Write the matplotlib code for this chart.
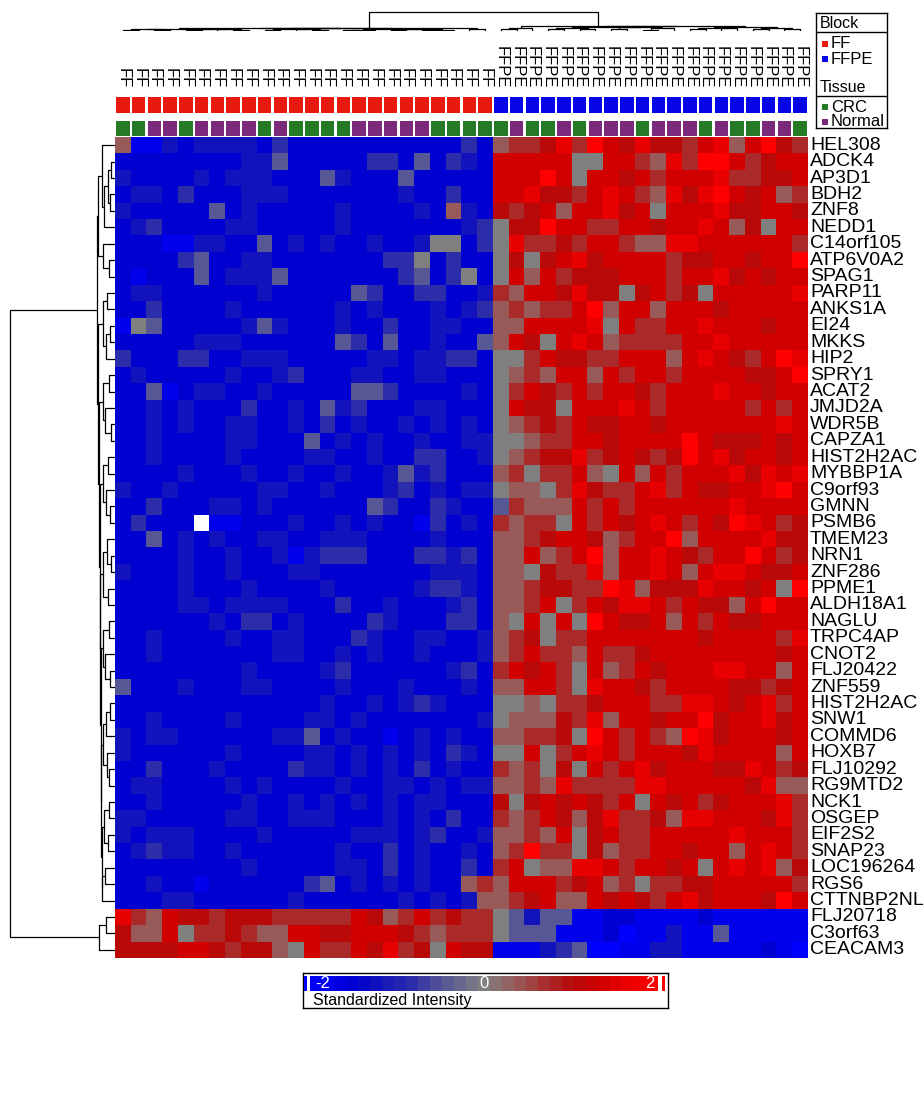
import numpy as np
import matplotlib
matplotlib.use("Agg")
import matplotlib.pyplot as plt
from matplotlib.colors import LinearSegmentedColormap
from matplotlib.patches import Rectangle
import matplotlib.transforms as mtrans

plt.rcParams['font.family'] = ['Liberation Sans', 'DejaVu Sans']

# ---------------- data ----------------
genes = ["HEL308", "ADCK4", "AP3D1", "BDH2", "ZNF8", "NEDD1", "C14orf105", "ATP6V0A2",
         "SPAG1", "PARP11", "ANKS1A", "EI24", "MKKS", "HIP2", "SPRY1", "ACAT2", "JMJD2A",
         "WDR5B", "CAPZA1", "HIST2H2AC", "MYBBP1A", "C9orf93", "GMNN", "PSMB6", "TMEM23",
         "NRN1", "ZNF286", "PPME1", "ALDH18A1", "NAGLU", "TRPC4AP", "CNOT2", "FLJ20422",
         "ZNF559", "HIST2H2AC", "SNW1", "COMMD6", "HOXB7", "FLJ10292", "RG9MTD2", "NCK1",
         "OSGEP", "EIF2S2", "SNAP23", "LOC196264", "RGS6", "CTTNBP2NL", "FLJ20718",
         "C3orf63", "CEACAM3"]

block = ["FF"] * 24 + ["FFPE"] * 20
tissue = list("GGPPGPPPPGPGGGGPPPPPGGGG" + "GPGGPGPPPGPPPGPGGPPG")

# intensity levels coded by letter (W = missing)
levels = {"A": -2.2, "B": -1.9, "C": -1.6, "D": -1.3, "E": -0.9, "F": -0.5, "G": 0.0,
          "H": 0.4, "I": 0.8, "J": 1.15, "K": 1.45, "L": 1.75, "M": 2.2, "W": np.nan}

cells_ff = [
    "HBBDCDDDDCECCCCCCCCCCCEC", "CCCCCCCCDDFCCCCCEECFCEDC", "DCCCCDCDDDCCCFDCCCFCCCCC",
    "CDDCECCCDDDCCCCCCCDCCECC", "DCCCCCFCDCCCCCDCCCCDCHDC", "CDECCCCDDCCCCCDCCCCCCCDE",
    "CCCBBDDCCFCDCDCCDCCDGGCE", "CCCCEFCCDDCCCCCCCEEGCECC", "CBCCCFCDDDFCCCCCCCEFCEGC",
    "CDDCCCCCCDCCCCCFECCEECCD", "CCECCCCDCCCCCCDCDCCCDCDE", "BGFCCCCCDFDCCCDCCECCDDCC",
    "CCCCCDDDCCCCCCFECFCCDCCF", "ECCCEECCDDDCCCCCDDCDDEEC", "CDCCCCCDCCDECCCDDCCDDCCC",
    "CCFBCDDCCDCCCCCFFECCCCDC", "CCDCDCCCECCDCFDECCCDDCCC", "CCDCDCCDDCCDCECDCCDCDCDC",
    "CCDCCCCDDCCCFCDCDCCDCCDD", "CCDCCCCDCCCCDDCCDCCEECCD", "CCCCDCCCDCCDCCDCCDFDECCC",
    "DCCDCCCCCDDCCDCCCDECDCDD", "CCECCCDDCDCCCCCCFECCEDCC", "CECCCWBBCCCDCCDCDCCBECDC",
    "CCFCDCDCCDDCCDDDCCCCDCCC", "CCCCDCCDCCDBDEEECCCEEDEC", "DCCCDCCDCCCDDCCCCCCCDDDC",
    "CCCCDCCCDCCCCDCCCCCDEEDC", "CCCCDDCDDDDCCCECCDCCCDEC", "CCCCCCDCEECDCCCCEDCCCEEC",
    "CCDCCCCDCCDDCCCEDCCDDCCD", "CCDCCCCCCCDDCCDCDCCDCCCD", "CCCCCCCCDCCCCDECCCCCCDEC",
    "FCCCDCCCDDCCCCDCCCDCCCDC", "CCCCCCCCCCCCCDCCDCDEDCCC", "CCDCCCCDCCCCDDCDCCCCCCCD",
    "DCDDCCCCCCDDFCDCCBCDCDCC", "DCCCCCCDCCCCDDCDCDCDCEDC", "CCECCCDCCCCEDDCDCDCECDCC",
    "CDDCCCCDCDCCCCDCCDDCDCDD", "CCDCCCCCDCCDCDCDCDCDDCCC", "DDCCCCCDDCCDDDCCCDCDCECC",
    "DCDDDCCCCDCCCCCDDDCDECCD", "CDEDDCCDCCCCCCDCCECDCCDC", "CCCCCCCCDCCCCCDDCECDCCEC",
    "CCDCCBCCCCCCEFCDCDCDCCHI", "CCCDDCCCCCCDCCCCCCDCDCDH", "LIHKJJIJJJIIIIIKJHIKIJII",
    "JHHKGIIJIHHKKJJKKKJIHIII", "JJJJKKJIJJHGKIIKJLIJGKJJ",
]
cells_ffpe = [
    "HIIJLIMKJLJJIKLHKMJI", "KKKKKGGKKIHLIMMKIJKK", "KKKMKGKKJKIKKKLIIJJK",
    "KKLJJIKLKIHLJLMKJKHI", "JIJKHKKLJKGKKKLJJKKJ", "GJJMKKIIKKJKKLKHJGKK",
    "GLIIJIKKIHHLLKKKKKKI", "GJGJKLJKKKKIJJKKJKKM", "GKHKIJJJKKKIKKLJKJKK",
    "IHKKJLJJGJKIJGKKKKKL", "HIHIIKMHKKHKKKJKKKKK", "HHKKKKLGKIIKKLKKKJKK",
    "HKJGKLKHIIIIKKLKKKKK", "GGIKJJIIKKKHKLKJIKML", "GHIHKKHKIKKIKKKKJJKM",
    "GIKJIKIKKJIKKKLKKJKK", "GKJJGKKKLKIKKKKKIKIK", "GHIJIKJJKKJKKKKKKKLK",
    "GGHIIKKJKKKKMKJJJKJK", "GHIJJLIJKJIJMKLJKKJK", "HIGIIKHGKHKIKKKLJLKL",
    "GHHGILJIIKLIKJJKKLMK", "FIHHHKIKIKKKKKKLKKKK", "IHIIGKIKJKLKIKJMLKIJ",
    "HHIJKKJHIKKMHKKKKLJJ", "HHKHIKMHKKLKJIKKMKIJ", "HHGJIILHKKLKHKLLKJJK",
    "HHIJJIIMLHJJJLKKJKGM", "HHIKGIKJLLKIKJJHKMKK", "HGKGKGMKJJKHKIKJJKKK",
    "HIJGIIKKKKKKKJKKKKIL", "HIKIIHKIIJKKKKKKKKJK", "IKJKIGKHIKJKKKLLKKHK",
    "HHKKIGLKKJIKKKKJJIJK", "GGHGIIJKKKIILLKJKLIK", "GHHHJILHKKJKKMJKKLJK",
    "HHIIJGMKIKIHMLJKKKJK", "GGKGIKLKIKKKJLKKKKHK", "IHIGJGKIKLJKKKJJLKIJ",
    "HHIHLIIIILLKKKKKJLHH", "JGJKJKJIKGKJKIJKKKLI", "IHIKJHJLIIJHLLKKKJLI",
    "HHIHKGJKIIKKKKKLKKKI", "HIMIIGJHIIKKJKKHKLKI", "IKGHHLLKIKKJKGKLKLHJ",
    "HKKKIJKHIGIIJJKKKKKI", "HIJKHHKJKJIKLJKKKJMK", "GFDFFBBCCBBBBCBBBBBB",
    "GFFFBBBCABBDBBFBBBBB", "BBBDEFAABBDDBBBBBCBA",
]

# dendrograms: (merge height, left, right); leaves are indices
col_tree = (19,
            (3.2,
             (2.8,
              (2.5, (2.0, (1.2, 0, 1), (1.5, 2, 3)), (2.2, (1.0, 4, 5), (1.8, 6, (1.1, 7, 8)))),
              (2.6, (2.3, (1.4, 9, 10), (1.9, 11, (1.0, 12, 13))),
               (2.4, (1.3, (0.9, 14, 15), 16), (1.7, (1.2, 17, 18), (1.4, (1.0, 19, 20), 21))))),
             (1.6, 22, 23)),
            (5.5,
             (3.5, (2.5, 24, 25), 26),
             (5.0,
              (4.2, (3.2, (2.0, 27, 28), (2.4, 29, 30)),
               (3.6, (2.2, 31, 32), (2.8, (1.5, 33, 34), 35))),
              (4.5, (3.4, (2.1, 36, 37), (2.6, 38, 39)), (3.0, (1.8, 40, 41), (2.0, 42, 43))))))

T1 = (13, 0, (11, (7, (4, 1, 2), (5, 3, 4)), 5))
T2 = (12, 6, (6, 7, 8))
T3 = (12, (8, 9, 10), (9, (5, 11, 12), 13))
T4 = (12.5, (6, 14, 15), (10, 16, (4, 17, 18)))
T5 = (12, (7, 19, 20), (9, 21, (5, 22, 23)))
T6 = (12.5, (8, 24, (4, 25, 26)), (7, 27, 28))
T7 = (12, (6, 29, 30), (10, 31, (5, 32, 33)))
T8 = (12.5, (9, (5, 34, 35), 36), (8, 37, (6, 38, 39)))
T9 = (11.5, (6, 40, 41), (7, 42, 43))
T10 = (13, (10, 44, 45), 46)
row_tree = (105,
            (17.6, (17.0, T1, T2),
             (16.6, T3, (16.0, T4, (15.4, T5, (14.9, T6, (14.4, T7, (13.9, T8, (13.4, T9, T10)))))))),
            (16, (9, 47, 48), 49))

# ---------------- helpers ----------------
W, H = 924, 1094
fig = plt.figure(figsize=(W / 100, H / 100), dpi=100)


def rect(x0, y0, x1, y1):
    return [x0 / W, 1 - y1 / H, (x1 - x0) / W, (y1 - y0) / H]


def dendro_segments(node, segs):
    if isinstance(node, int):
        return float(node), 0.0
    h, a, b = node
    pa, ha = dendro_segments(a, segs)
    pb, hb = dendro_segments(b, segs)
    segs.append(([pa, pa, pb, pb], [ha, h, h, hb]))
    return (pa + pb) / 2, h


node_vals = [-2.2, -1.9, -1.6, -1.3, -0.9, -0.5, 0.0, 0.4, 0.8, 1.15, 1.45, 1.75, 2.2]
node_cols = [(0, 0, 255), (0, 0, 234), (0, 0, 208), (20, 20, 188), (46, 46, 170), (88, 88, 150),
             (128, 128, 128), (152, 90, 90), (170, 42, 42), (186, 8, 8), (208, 0, 0),
             (232, 0, 0), (255, 0, 0)]
vmin, vmax = -2.2, 2.2
cmap = LinearSegmentedColormap.from_list(
    "bgr", [((v - vmin) / (vmax - vmin), tuple(c / 255 for c in col)) for v, col in zip(node_vals, node_cols)])
cmap.set_bad("white")

matrix = np.array([[levels[ch] for ch in a + b] for a, b in zip(cells_ff, cells_ffpe)])
nrow, ncol = matrix.shape

# ---------------- heatmap ----------------
ax = fig.add_axes(rect(115, 137, 808, 958))
ax.imshow(matrix, cmap=cmap, vmin=vmin, vmax=vmax, aspect="auto", interpolation="nearest")
ax.set_xlim(-0.5, ncol - 0.5)
ax.set_ylim(nrow - 0.5, -0.5)
ax.axis("off")
for i, g in enumerate(genes):
    ax.text(ncol - 0.5 + 0.12, i, g, ha="left", va="center", fontsize=14, clip_on=False)

# ---------------- annotation squares ----------------
block_col = {"FF": "#e8190e", "FFPE": "#0606e6"}
tissue_col = {"G": "#257a25", "P": "#7b2a7b"}
axa = fig.add_axes(rect(115, 95, 808, 137))
axa.set_xlim(-0.5, ncol - 0.5)
axa.set_ylim(42, 0)
axa.axis("off")
for j in range(ncol):
    axa.add_patch(Rectangle((j - 0.43, 2), 0.86, 16, color=block_col[block[j]], lw=0))
    axa.add_patch(Rectangle((j - 0.43, 26), 0.86, 15, color=tissue_col[tissue[j]], lw=0))

# column labels (rotated)
tr = mtrans.blended_transform_factory(ax.transData, fig.transFigure)
for j in range(ncol):
    ax.text(j, 1 - 88 / H, block[j], rotation=270, ha="center", va="bottom",
            fontsize=12, transform=tr, clip_on=False)

# ---------------- top dendrogram ----------------
axt = fig.add_axes(rect(115, 10, 808, 31))
segs = []
dendro_segments(col_tree, segs)
for xs, ys in segs:
    axt.plot(xs, ys, color="black", lw=0.9, solid_capstyle="butt")
axt.set_xlim(-0.5, ncol - 0.5)
axt.set_ylim(0, 21)
axt.axis("off")

# ---------------- left dendrogram ----------------
axl = fig.add_axes(rect(0, 137, 115, 958))
segs = []
dendro_segments(row_tree, segs)
for ys, xs in segs:
    axl.plot(xs, ys, color="black", lw=0.9, solid_capstyle="butt")
axl.set_xlim(115, 0)
axl.set_ylim(nrow - 0.5, -0.5)
axl.axis("off")

# ---------------- legend ----------------
axg = fig.add_axes(rect(816, 13, 887, 128))
axg.set_xlim(0, 71)
axg.set_ylim(115, 0)
axg.set_xticks([])
axg.set_yticks([])
for s in axg.spines.values():
    s.set_linewidth(1)
axg.axhline(19, color="black", lw=1)
axg.axhline(83, color="black", lw=1)
axg.text(4, 10, "Block", va="center", ha="left", fontsize=11.5)
axg.text(4, 74, "Tissue", va="center", ha="left", fontsize=11.5)
leg_items = [("FF", block_col["FF"], 31), ("FFPE", block_col["FFPE"], 46),
             ("CRC", tissue_col["G"], 94), ("Normal", tissue_col["P"], 109)]
for lab, col, yy in leg_items:
    axg.add_patch(Rectangle((6, yy - 3), 6, 6, color=col, lw=0))
    axg.text(15, yy, lab, va="center", ha="left", fontsize=12)

# ---------------- colour scale ----------------
axb = fig.add_axes(rect(303, 973, 668, 1008))
axb.set_xticks([])
axb.set_yticks([])
for s in axb.spines.values():
    s.set_linewidth(1)
axc = fig.add_axes(rect(310, 976, 658, 991))
steps = np.linspace(-2.1, 2.1, 29)
axc.imshow(steps[None, :], cmap=cmap, vmin=vmin, vmax=vmax, aspect="auto",
           interpolation="nearest", extent=(-2.1, 2.1, 0, 1))
axc.set_xlim(-2.1, 2.1)
axc.axis("off")
for v, t in [(-1.95, "-2"), (0, "0"), (2.0, "2")]:
    axc.text(v, 0.5, t, color="white", ha="center", va="center", fontsize=12)
fig.add_artist(Rectangle((304 / W, 1 - 991 / H), 3 / W, 15 / H, color="#0000ff", lw=0,
                         transform=fig.transFigure))
fig.add_artist(Rectangle((662 / W, 1 - 991 / H), 3 / W, 15 / H, color="#ff0000", lw=0,
                         transform=fig.transFigure))
fig.text(313 / W, 1 - 1000 / H, "Standardized Intensity", ha="left", va="center", fontsize=11.5)

fig.savefig("out.png", dpi=100, facecolor="white")
